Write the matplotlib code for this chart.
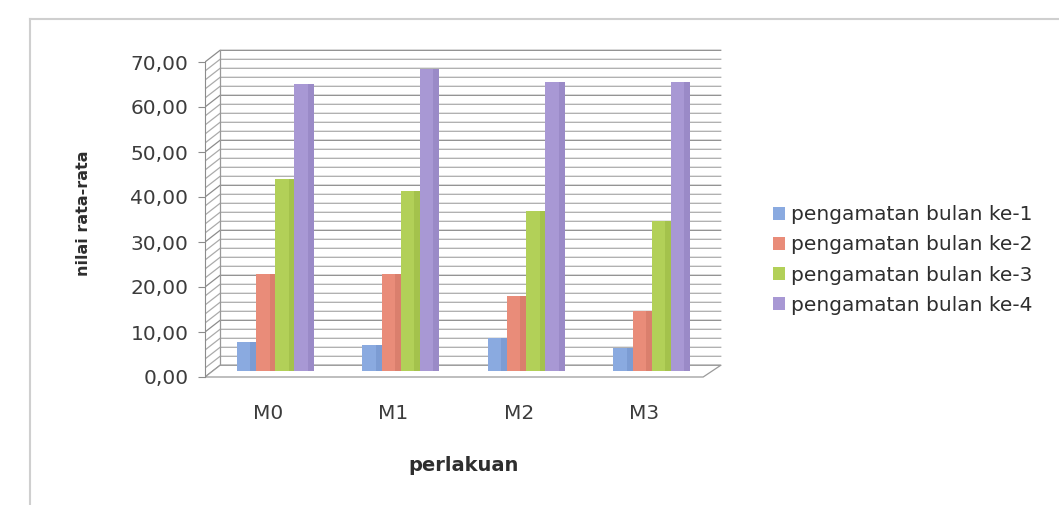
import matplotlib.pyplot as plt
from matplotlib.ticker import FuncFormatter
from matplotlib.patches import Polygon, Patch
from matplotlib.lines import Line2D

plt.rcParams['font.family'] = ['DejaVu Sans']

categories = ["M0", "M1", "M2", "M3"]
series = ["pengamatan bulan ke-1", "pengamatan bulan ke-2",
          "pengamatan bulan ke-3", "pengamatan bulan ke-4"]
bulan1 = [6.4, 5.8, 7.3, 5.1]
bulan2 = [21.5, 21.5, 16.6, 13.3]
bulan3 = [42.8, 40.1, 35.5, 33.3]
bulan4 = [63.9, 67.2, 64.3, 64.3]
values = [bulan1, bulan2, bulan3, bulan4]
colors = ["#8aaae0", "#e98c79", "#b2d058", "#a898d4"]
sides = ["#6d8cc4", "#c8705f", "#93b23f", "#8a7ab8"]

# fake depth for the excel-style 3d look
dx, dy = 0.12, 2.6
x_left, x_right = -0.5, 3.47

fig = plt.figure(figsize=(10.59, 5.05), dpi=100)
ax = fig.add_axes([205 / 1059, 1 - 381.5 / 505, (722 - 205) / 1059, (381.5 - 44) / 505])
ax.set_xlim(-0.5, 3.62)
ax.set_ylim(-1, 74)

# back wall + gridlines
grid = list(range(0, 72, 2))
for v in grid:
    c = "#8c8c8c" if v % 10 == 0 else "#ababab"
    ax.plot([x_left, x_left + dx, x_right + dx + 0.02], [v, v + dy, v + dy],
            color=c, lw=0.9, zorder=1)
ax.plot([x_left + dx, x_left + dx], [dy, 70 + dy], color="#999999", lw=0.9, zorder=1)

# floor
floor = Polygon([(x_left, 0), (x_right, 0), (x_right + dx + 0.02, dy), (x_left + dx, dy)],
                closed=True, facecolor="white", edgecolor="#9a9a9a", lw=0.9, zorder=2)
ax.add_patch(floor)

# bars, placed halfway into the depth
w = 0.153
for i, (vals, col, sc) in enumerate(zip(values, colors, sides)):
    xs = [k + dx / 2 + (i - 1.5) * w for k in range(len(categories))]
    ax.bar(xs, vals, width=w, bottom=dy / 2, color=col, edgecolor="none", zorder=3 + i)
    ax.bar([x + w * 0.35 for x in xs], vals, width=w * 0.3, bottom=dy / 2,
           color=sc, alpha=0.45, edgecolor="none", zorder=3 + i)

# front axis
for s in ["top", "right", "bottom"]:
    ax.spines[s].set_visible(False)
ax.spines["left"].set_bounds(0, 70)
ax.spines["left"].set_color("#8c8c8c")
ax.set_yticks(range(0, 80, 10))
ax.yaxis.set_major_formatter(FuncFormatter(lambda v, p: f"{v:.2f}".replace(".", ",")))
ax.tick_params(axis="y", length=5, color="#8c8c8c", labelsize=14.5, labelcolor="#3c3c3c", pad=7)
ax.set_xticks(range(len(categories)))
ax.set_xticklabels(categories)
ax.tick_params(axis="x", length=0, labelsize=14.5, labelcolor="#3c3c3c", pad=16)

ax.set_ylabel("nilai rata-rata", fontsize=11.5, fontweight="bold", color="#2e2e2e", labelpad=28)
ax.set_xlabel("perlakuan", fontsize=14, fontweight="bold", color="#2e2e2e", labelpad=24)

handles = [Patch(facecolor=c, edgecolor="none") for c in colors]
fig.legend(handles, series, loc="center left", bbox_to_anchor=(755 / 1059, 1 - 260 / 505),
           frameon=False, fontsize=14.5, handlelength=0.6, handleheight=0.6,
           handletextpad=0.3, labelspacing=0.55, labelcolor="#2e2e2e")

# outer frame of the chart area
fig.add_artist(Line2D([30 / 1059, 1], [1 - 19 / 505] * 2, color="#cfcfcf", lw=1.5))
fig.add_artist(Line2D([30 / 1059] * 2, [0, 1 - 19 / 505], color="#cfcfcf", lw=1.5))

fig.savefig("out.png", dpi=100)
